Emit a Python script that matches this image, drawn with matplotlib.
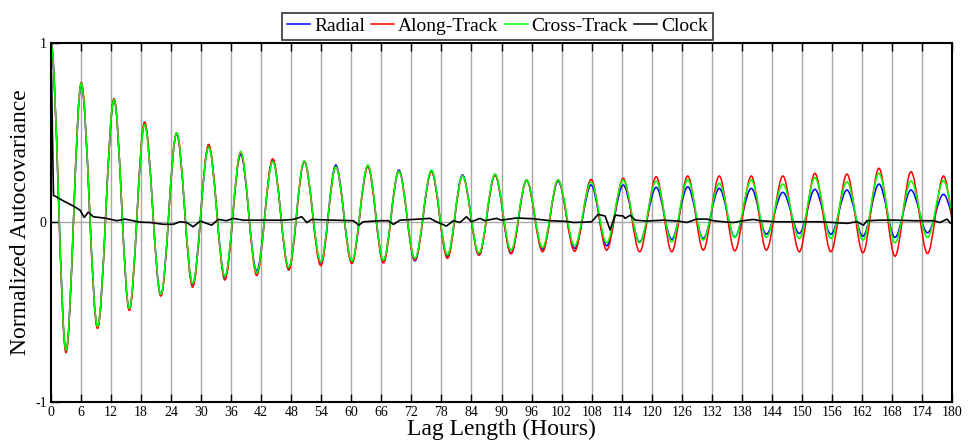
import numpy as np
import matplotlib.pyplot as plt
from matplotlib.path import Path
from matplotlib.patches import PathPatch
from matplotlib.lines import Line2D

plt.rcParams['font.family'] = ['Liberation Serif', 'DejaVu Serif']

# Horas de los extremos (picos / valles)
t_ext = [0, 3.0, 6.05, 9.3, 12.6, 15.65, 18.7, 21.95, 25.1, 28.3, 31.5, 34.75,
         37.9, 41.1, 44.3, 47.5, 50.6, 53.9, 56.9, 60.1, 63.3, 66.4, 69.5, 72.7,
         76.0, 79.2, 82.2, 85.5, 88.7, 91.9, 95.0, 98.2, 101.3, 104.6, 107.9, 111.0,
         114.3, 117.6, 120.9, 124.0, 127.2, 130.3, 133.5, 136.6, 139.9, 142.9, 146.2,
         149.5, 152.6, 155.8, 159.0, 162.2, 165.4, 168.6, 171.8, 175.1, 178.3, 181.4]

radial = [1.0, -0.715, 0.77, -0.585, 0.685, -0.485, 0.55, -0.405, 0.495, -0.345,
          0.425, -0.305, 0.38, -0.27, 0.345, -0.255, 0.34, -0.225, 0.32, -0.22,
          0.315, -0.215, 0.292, -0.214, 0.285, -0.19, 0.265, -0.18, 0.265, -0.173,
          0.235, -0.15, 0.23, -0.145, 0.209, -0.13, 0.209, -0.108, 0.196, -0.094,
          0.199, -0.089, 0.19, -0.08, 0.19, -0.065, 0.168, -0.061, 0.185, -0.065,
          0.181, -0.076, 0.214, -0.083, 0.181, -0.057, 0.157, -0.06]

along = [1.0, -0.725, 0.78, -0.59, 0.69, -0.49, 0.56, -0.41, 0.50, -0.36,
         0.435, -0.32, 0.39, -0.295, 0.355, -0.265, 0.34, -0.24, 0.31, -0.228,
         0.31, -0.225, 0.285, -0.21, 0.285, -0.20, 0.26, -0.182, 0.265, -0.173,
         0.237, -0.163, 0.237, -0.16, 0.24, -0.154, 0.246, -0.163, 0.255, -0.163,
         0.259, -0.154, 0.259, -0.158, 0.259, -0.154, 0.259, -0.163, 0.274, -0.163,
         0.27, -0.169, 0.302, -0.188, 0.283, -0.173, 0.259, -0.17]

cross = [1.0, -0.71, 0.775, -0.58, 0.685, -0.48, 0.545, -0.40, 0.50, -0.34,
         0.42, -0.30, 0.395, -0.28, 0.34, -0.25, 0.343, -0.22, 0.31, -0.215,
         0.32, -0.21, 0.285, -0.20, 0.292, -0.18, 0.26, -0.17, 0.27, -0.155,
         0.237, -0.14, 0.237, -0.13, 0.225, -0.113, 0.237, -0.113, 0.231, -0.108,
         0.237, -0.098, 0.218, -0.083, 0.237, -0.083, 0.214, -0.089, 0.25, -0.089,
         0.227, -0.098, 0.274, -0.113, 0.231, -0.083, 0.233, -0.09]

# Reloj
t_clock = [0, 0.5, 0.8, 2.5, 4.45, 5.8, 6.65, 7.45, 8.45, 11.1, 13.1, 14.8, 17.8,
           19.8, 22.4, 24.4, 25.8, 27.1, 28.4, 29.8, 31.1, 32.1, 33.4, 35.1, 36.4,
           38.4, 42.4, 46.4, 48.4, 50.1, 51.1, 52.1, 56.4, 60.4, 61.5, 62.4, 65.7,
           67.4, 68.4, 69.7, 72.4, 75.7, 77.0, 79.0, 80.4, 81.7, 83.0, 84.0, 85.7,
           86.7, 89.0, 90.0, 93.0, 96.3, 99.7, 103.0, 104.4, 106.3, 108.0, 109.3,
           110.7, 111.7, 112.7, 114.3, 114.7, 115.7, 116.7, 119.0, 122.3, 125.3,
           127.0, 129.0, 131.0, 132.3, 134.3, 136.3, 138.3, 140.3, 141.6, 145.0,
           148.3, 151.0, 153.6, 156.3, 159.0, 161.0, 162.3, 163.0, 165.6, 168.9,
           172.3, 176.3, 177.6, 179.0, 179.7, 180.0]
clock = [1.0, 0.15, 0.147, 0.12, 0.092, 0.069, 0.028, 0.058, 0.032, 0.023, 0.01,
         0.019, 0.002, 0.0, -0.01, -0.01, 0.004, 0.0, -0.024, 0.008, -0.005, -0.015,
         0.017, 0.01, 0.023, 0.013, 0.013, 0.013, 0.017, 0.032, 0.0, 0.017, 0.013,
         0.01, -0.015, 0.004, 0.01, 0.01, -0.011, 0.013, 0.017, 0.023, 0.004, -0.02,
         0.01, 0.0, 0.032, 0.004, 0.023, 0.01, 0.023, 0.013, 0.025, 0.021, 0.01,
         0.006, 0.0, 0.002, 0.004, 0.045, 0.036, -0.042, 0.041, 0.036, 0.023, 0.041,
         0.013, 0.008, 0.013, 0.008, 0.0, 0.019, 0.019, 0.01, 0.004, 0.0, 0.01,
         0.017, 0.01, 0.004, 0.004, 0.004, 0.004, 0.0, -0.005, 0.004, -0.015, 0.01,
         0.013, 0.013, 0.01, 0.01, 0.0, 0.019, -0.005, -0.005]

xticks = list(range(0, 181, 6))


def curva_suave(t, v):
    # curva bezier entre extremos consecutivos (tangente horizontal en cada extremo)
    verts = [(t[0], v[0])]
    codes = [Path.MOVETO]
    for i in range(len(t) - 1):
        d = t[i + 1] - t[i]
        verts += [(t[i] + d / 3, v[i]), (t[i + 1] - d / 3, v[i + 1]), (t[i + 1], v[i + 1])]
        codes += [Path.CURVE4] * 3
    return Path(verts, codes)


fig = plt.figure(figsize=(9.69, 4.47), dpi=100)
ax = fig.add_axes([0.0526, 0.1007, 0.9299, 0.8031])

for x in xticks[1:-1]:
    ax.axvline(x, color='#a8a8a8', lw=1.0, zorder=1)
ax.axhline(0, color='#a8a8a8', lw=1.0, zorder=1)

for vals, col in [(radial, '#0000ff'), (along, '#ff0000'), (cross, '#00ff00')]:
    ax.add_patch(PathPatch(curva_suave(t_ext, vals), fill=False, edgecolor=col, lw=1.1, zorder=2))
ax.plot(t_clock, clock, color='black', lw=1.2, zorder=3)

ax.set_xlim(0, 180)
ax.set_ylim(-1, 1)
ax.set_xticks(xticks)
ax.set_yticks([-1, 0, 1])
ax.set_yticklabels(['-1', '0', '1'])
ax.tick_params(axis='x', direction='in', length=6, width=1, top=True, labelsize=10, pad=3)
ax.tick_params(axis='y', direction='in', length=6, width=1, labelsize=10, pad=3)
for s in ax.spines.values():
    s.set_linewidth(1.5)

ax.set_xlabel('Lag Length (Hours)', fontsize=17, labelpad=0)
ax.set_ylabel('Normalized Autocovariance', fontsize=17, labelpad=3)

handles = [Line2D([], [], color='#0000ff', lw=1.1),
           Line2D([], [], color='#ff0000', lw=1.1),
           Line2D([], [], color='#00ff00', lw=1.1),
           Line2D([], [], color='black', lw=1.1)]
leg = ax.legend(handles, ['Radial', 'Along-Track', 'Cross-Track', 'Clock'],
                loc='lower center', bbox_to_anchor=(0.4956, 1.0), ncol=4,
                fontsize=14, frameon=True, fancybox=False, edgecolor='black',
                handlelength=1.2, handletextpad=0.2, columnspacing=0.3,
                borderpad=0.25, borderaxespad=0.15)
leg.get_frame().set_linewidth(1.2)

fig.savefig('out.png', dpi=100)
